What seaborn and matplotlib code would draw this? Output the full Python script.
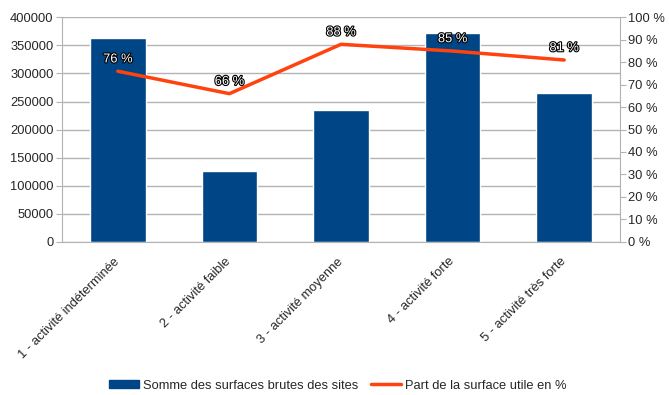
import matplotlib
matplotlib.use('Agg')
import matplotlib.pyplot as plt
import matplotlib.patheffects as pe
from matplotlib.lines import Line2D
from matplotlib.patches import Patch
from matplotlib.ticker import MultipleLocator, FuncFormatter
import seaborn as sns
import pandas as pd

categories = ['1 - activité indéterminée', '2 - activité faible', '3 - activité moyenne',
              '4 - activité forte', '5 - activité très forte']
surfaces = [362500, 126000, 234000, 372000, 266000]
part_utile = [76, 66, 88, 85, 81]

BAR_COLOR = '#004586'
LINE_COLOR = '#ff420e'
GRID_COLOR = '#b3b3b3'
FS = 9.3

sns.set_style('white')
plt.rcParams['font.family'] = ['Liberation Sans', 'DejaVu Sans']

df = pd.DataFrame({'cat': categories, 'surf': surfaces, 'pct': part_utile})

fig = plt.figure(figsize=(6.69, 3.95), dpi=100)
ax = fig.add_axes([0.0927, 0.388, 0.834, 0.568])
sns.barplot(data=df, x='cat', y='surf', color=BAR_COLOR, saturation=1, width=0.5, ax=ax)
ax.set_ylim(0, 400000)
ax.set_xlim(-0.5, 4.5)
ax.yaxis.set_major_locator(MultipleLocator(50000))
ax.set_xlabel('')
ax.set_ylabel('')
ax.grid(axis='y', color=GRID_COLOR, linewidth=1)
ax.set_axisbelow(True)

# separators between categories as ticks, labels at the centres
ax.set_xticks([i - 0.5 for i in range(6)], minor=False)
ax.set_xticklabels([])
ax.set_xticks(range(5), minor=True)
ax.set_xticklabels(categories, minor=True, rotation=45, ha='right', va='center',
                   rotation_mode='anchor', fontsize=FS)
ax.tick_params(axis='x', which='major', length=5, color=GRID_COLOR, direction='out')
ax.tick_params(axis='x', which='minor', length=0, pad=13)
ax.tick_params(axis='y', length=4, color=GRID_COLOR, labelsize=FS, pad=2)
for s in ['top', 'right']:
    ax.spines[s].set_visible(False)
for s in ['left', 'bottom']:
    ax.spines[s].set_color(GRID_COLOR)

ax2 = ax.twinx()
sns.lineplot(data=df, x='cat', y='pct', color=LINE_COLOR, linewidth=2.5, ax=ax2)
ax2.set_ylim(0, 100)
ax2.set_xlim(-0.5, 4.5)
ax2.yaxis.set_major_locator(MultipleLocator(10))
ax2.yaxis.set_major_formatter(FuncFormatter(lambda v, p: f'{int(v)} %'))
ax2.set_ylabel('')
ax2.set_xlabel('')
ax2.tick_params(axis='y', length=4, color=GRID_COLOR, labelsize=FS, pad=2)
for s in ['top', 'left', 'bottom']:
    ax2.spines[s].set_visible(False)
ax2.spines['right'].set_color(GRID_COLOR)

for i, v in enumerate(part_utile):
    ax2.annotate(f'{v} %', (i, v), xytext=(0, 8.5), textcoords='offset points',
                 ha='center', va='center', fontsize=FS, color='white',
                 path_effects=[pe.withStroke(linewidth=1.6, foreground='black')])

handles = [Patch(facecolor=BAR_COLOR, edgecolor=BAR_COLOR),
           Line2D([0], [0], color=LINE_COLOR, linewidth=2.5)]
fig.legend(handles, ['Somme des surfaces brutes des sites', 'Part de la surface utile en %'],
           loc='center', bbox_to_anchor=(0.505, 0.024), ncol=2, frameon=False, fontsize=FS,
           handlelength=2.3, handleheight=0.6, columnspacing=1.0, handletextpad=0.3)

fig.savefig('out.png', dpi=100)
